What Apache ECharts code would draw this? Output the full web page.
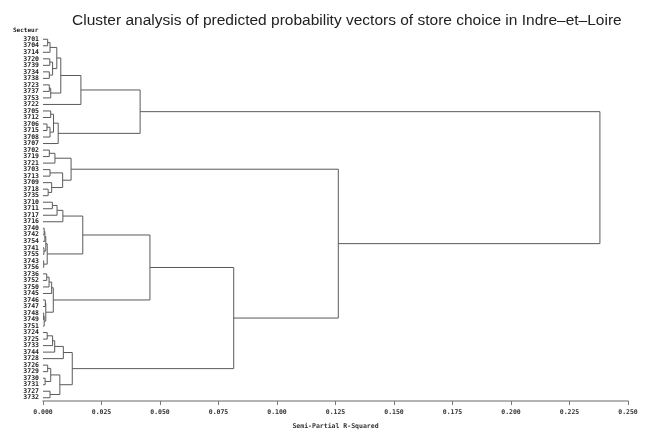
<!DOCTYPE html>
<html lang="en">
<head>
    <meta charset="UTF-8">
    <title>Cluster analysis</title>
    <style>
        html,body{margin:0;padding:0;background:#fff;}
        #main{width:645px;height:432px;}
    </style>
</head>
<body>
<div id="main"></div>
<script src="https://cdn.jsdelivr.net/npm/echarts@6/dist/echarts.min.js"></script>
<script>
    // leaves in the order they are drawn, top to bottom
    const leaves = ['3701','3704','3714','3720','3739','3734','3738','3723','3737','3753','3722',
        '3705','3712','3706','3715','3708','3707',
        '3702','3719','3721','3703','3713','3709','3718','3735',
        '3710','3711','3717','3716','3740','3742','3754','3741','3755','3743','3756',
        '3736','3752','3750','3745','3746','3747','3748','3749','3751',
        '3724','3725','3733','3744','3728','3726','3729','3730','3731','3727','3732']

    // merges: [left, right, semi-partial R2]; a string is a leaf, a number is an earlier merge
    const merges = [
        ['3701','3704',0.0020],[0,'3714',0.0030],['3720','3739',0.0029],['3734','3738',0.0027],
        [2,3,0.0041],[1,4,0.0059],['3723','3737',0.0027],[6,'3753',0.0033],[5,7,0.0076],[8,'3722',0.0162],
        ['3705','3712',0.0033],['3706','3715',0.0017],[11,'3708',0.0030],[10,12,0.0045],[13,'3707',0.0065],
        [9,14,0.0415],
        ['3702','3719',0.0027],[16,'3721',0.0051],['3703','3713',0.0030],['3718','3735',0.0022],
        ['3709',19,0.0037],[18,20,0.0084],[17,21,0.0120],
        ['3710','3711',0.0040],[23,'3717',0.0060],[24,'3716',0.0085],['3740','3742',0.0005],[26,'3754',0.0008],
        ['3741','3755',0.0004],[27,28,0.0012],['3743','3756',0.0003],[29,30,0.0018],[25,31,0.0170],
        ['3736','3752',0.0016],[33,'3750',0.0026],[34,'3745',0.0037],['3746','3747',0.0010],['3748','3749',0.0003],
        [37,'3751',0.0005],[36,38,0.0012],[35,39,0.0044],[32,40,0.0457],
        ['3724','3725',0.0018],[42,'3733',0.0041],[43,'3744',0.0050],[44,'3728',0.0087],
        ['3726','3729',0.0020],['3730','3731',0.0009],[46,47,0.0033],['3727','3732',0.0030],[48,49,0.0072],
        [45,50,0.0125],[41,51,0.0815],[22,52,0.1262],[15,53,0.2380]
    ]

    const xTicks = {min:0, max:0.25, step:0.025}

    // build the dendrogram elbows from the merge list
    const nodes = []
    const segments = []
    function pos(ref){
        if(typeof ref === 'string') return {h:0, y:leaves.indexOf(ref)}
        return nodes[ref]
    }
    merges.forEach(([a,b,h])=>{
        const A = pos(a), B = pos(b)
        segments.push([A.h, A.y, h, B.y, B.h])
        nodes.push({h:h, y:(A.y+B.y)/2})
    })

    const myChart = echarts.init(document.getElementById('main'))
    const option = {
        animation:false,
        title:{
            text:'Cluster analysis of predicted probability vectors of store choice in Indre\u2013et\u2013Loire',
            left:67,
            top:8,
            textStyle:{fontFamily:'Liberation Sans',fontWeight:'normal',fontSize:15.5,color:'#222'}
        },
        graphic:[{
            type:'text',left:13,top:27,
            style:{text:'Secteur',font:'bold 6px "DejaVu Sans Mono"',fill:'#222'}
        }],
        grid:{left:43,right:17,top:36,bottom:31,containLabel:false,outerBoundsMode:'none'},
        xAxis:{
            type:'value',
            min:xTicks.min,max:xTicks.max,interval:xTicks.step,
            name:'Semi-Partial R-Squared',
            nameLocation:'middle',
            nameGap:22,
            nameTextStyle:{fontFamily:'DejaVu Sans Mono',fontSize:6.5,fontWeight:'bold',color:'#333'},
            axisLine:{onZero:false,lineStyle:{color:'#9a9a9a',width:1.5}},
            axisTick:{length:4,lineStyle:{color:'#777'}},
            axisLabel:{
                formatter:v=>v.toFixed(3),
                fontFamily:'DejaVu Sans Mono',fontSize:6.5,fontWeight:'bold',color:'#333',margin:8
            },
            splitLine:{show:false}
        },
        yAxis:[{
            type:'category',
            data:leaves,
            inverse:true,
            boundaryGap:true,
            axisLine:{show:false},
            axisTick:{show:false},
            axisLabel:{interval:0,fontFamily:'DejaVu Sans Mono',fontSize:6.5,fontWeight:'bold',color:'#222',margin:4},
            splitLine:{show:false}
        },{
            type:'value',
            min:-0.5,max:leaves.length-0.5,
            inverse:true,
            show:false
        }],
        series:[{
            type:'custom',
            xAxisIndex:0,
            yAxisIndex:1,
            data:segments,
            renderItem:(params,api)=>{
                const p1 = api.coord([api.value(0),api.value(1)])
                const p2 = api.coord([api.value(2),api.value(1)])
                const p3 = api.coord([api.value(2),api.value(3)])
                const p4 = api.coord([api.value(4),api.value(3)])
                return {
                    type:'polyline',
                    shape:{points:[p1,p2,p3,p4]},
                    style:{stroke:'#5a5a5a',fill:null,lineWidth:1}
                }
            }
        }]
    }
    myChart.setOption(option)
</script>
</body>
</html>
